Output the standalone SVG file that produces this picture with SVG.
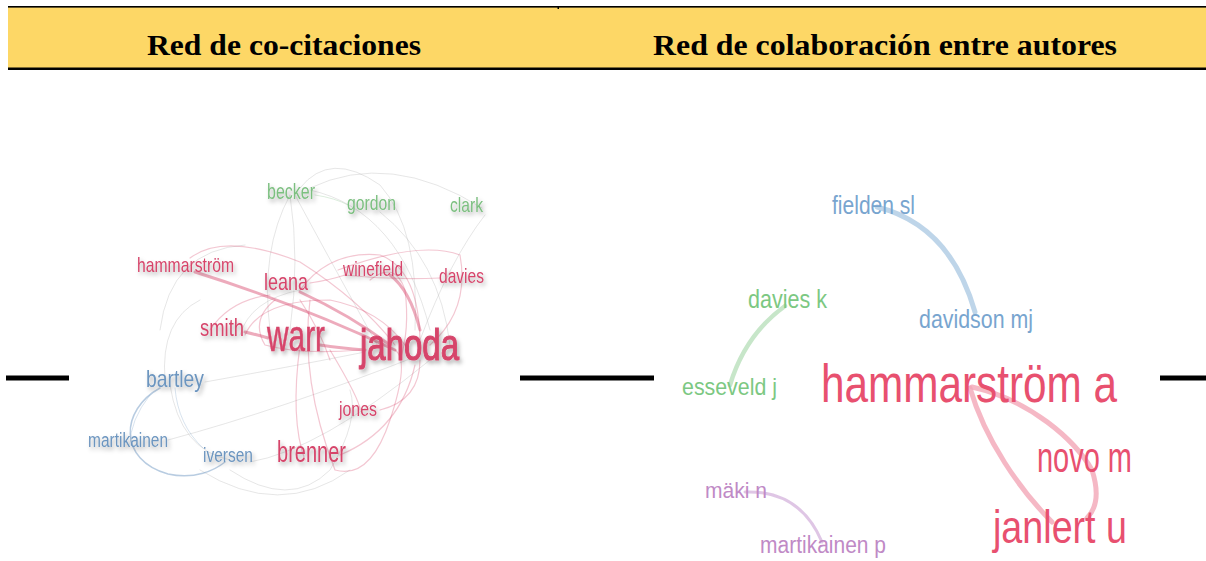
<svg xmlns="http://www.w3.org/2000/svg" width="1206" height="561" viewBox="0 0 1206 561">
<style>
.hdr{font-family:"Liberation Serif","Times New Roman",serif;font-weight:bold;font-size:30px;fill:#000}
.lb{font-family:"Liberation Sans",Arial,sans-serif;filter:url(#sh)}
.rb{font-family:"Liberation Sans",Arial,sans-serif}
.r{fill:#d6456b}.g{fill:#7cbf80}.b{fill:#6c95bf}
.R{fill:#e8506f}.G{fill:#7cc882}.B{fill:#78a5cf}.P{fill:#c08ac6}
.e{fill:none;stroke-linecap:round}
.er{stroke:#d6456b}.eg{stroke:#b8b8b8}.eb{stroke:#7ea3c8}.egr{stroke:#8cc48f}
</style>
<defs>
<filter id="sh" x="-20%" y="-30%" width="150%" height="180%">
<feDropShadow dx="2" dy="3" stdDeviation="2" flood-color="#000" flood-opacity="0.3"/>
</filter>
</defs>
<rect width="1206" height="561" fill="#fff"/>
<g id="header">
<rect x="8" y="7" width="1198" height="61" fill="#fdd766"/>
<rect x="8" y="6" width="1198" height="1.6" fill="#000"/>
<rect x="8" y="67.5" width="1198" height="2.5" fill="#000"/>
<rect x="557.5" y="6" width="1.5" height="3" fill="#000"/>
<text class="hdr" x="147" y="55" textLength="274" lengthAdjust="spacingAndGlyphs">Red de co-citaciones</text>
<text class="hdr" x="653" y="55" textLength="464" lengthAdjust="spacingAndGlyphs">Red de colaboración entre autores</text>
</g>
<g id="rules">
<rect x="6" y="375.5" width="63" height="5" fill="#000"/>
<rect x="520" y="375.5" width="134" height="5" fill="#000"/>
<rect x="1160" y="375.5" width="46" height="5" fill="#000"/>
</g>
<g id="connectors">
<g class="e eg" stroke-opacity="0.35" stroke-width="1">
<path d="M300,188 Q330,150 380,185 Q420,230 415,330"/>
<path d="M310,188 Q390,150 482,208"/>
<path d="M290,195 Q300,260 290,330"/>
<path d="M295,195 Q330,260 380,350"/>
<path d="M310,190 Q400,210 430,330"/>
<path d="M290,195 Q260,250 270,330"/>
<path d="M205,382 Q300,365 365,352"/>
<path d="M168,440 Q280,410 420,355"/>
<path d="M380,212 Q440,260 450,345"/>
<path d="M485,215 Q450,260 420,340"/>
<path d="M250,462 Q320,450 430,360"/>
<path d="M160,330 Q170,250 245,245"/>
<path d="M165,380 Q160,320 200,300"/>
<path d="M200,470 Q280,520 350,470"/>
<path d="M230,470 Q290,510 330,470 Q360,420 350,390"/>
<path d="M170,385 Q180,450 230,460"/>
<path d="M240,335 Q250,300 300,290"/>
</g>
<g class="e er" stroke-opacity="0.3" stroke-width="1.2">
<path d="M190,258 Q225,232 300,262 Q360,300 395,345"/>
<path d="M338,270 Q420,240 460,255 Q470,310 430,345"/>
<path d="M300,290 Q330,250 380,255 Q420,270 420,345"/>
<path d="M275,300 Q250,320 265,345 Q300,355 360,350"/>
<path d="M300,345 Q290,420 305,460"/>
<path d="M310,300 Q300,380 335,470 Q370,480 390,420 Q410,360 395,350"/>
<path d="M245,335 Q260,300 330,300 Q380,310 405,345"/>
<path d="M330,350 Q360,400 360,410"/>
<path d="M380,410 Q420,400 420,360"/>
<path d="M340,455 Q400,430 415,365"/>
<path d="M345,275 Q390,280 440,278"/>
<path d="M310,283 Q330,280 345,275"/>
<path d="M300,300 Q320,330 330,360"/>
<path d="M210,330 Q230,300 270,295"/>
<path d="M400,360 Q410,330 405,290 Q395,260 370,280"/>
</g>
<g class="e er" stroke-opacity="0.45" stroke-width="3">
<path d="M195,272 Q300,305 395,350"/>
<path d="M320,345 Q340,348 365,350"/>
<path d="M245,332 Q258,335 268,338"/>
<path d="M300,292 Q350,315 390,345"/>
<path d="M390,275 Q410,290 420,330"/>
</g>
<g class="e egr" stroke-opacity="0.3" stroke-width="1">
<path d="M315,195 Q335,198 348,205"/>
</g>
<g class="e eb" stroke-opacity="0.55" stroke-width="1.5">
<path d="M160,388 C120,410 118,460 168,474 C195,480 215,470 225,462"/>
</g>
<g class="e eb" stroke-opacity="0.3" stroke-width="1">
<path d="M175,388 Q178,425 203,448"/>
<path d="M130,445 Q130,420 150,395"/>
</g>
<path class="e" d="M877,207 Q950,225 975,312" stroke="#aecbe4" stroke-width="5" stroke-opacity="0.8"/>
<path class="e" d="M785,306 Q745,335 730,385" stroke="#b9e0bb" stroke-width="4.5" stroke-opacity="0.8"/>
<path class="e" d="M970,388 C985,440 1020,490 1052,522" stroke="#f3a6b6" stroke-width="5" stroke-opacity="0.8"/>
<path class="e" d="M972,387 C1030,400 1075,440 1092,470 C1100,495 1095,510 1087,518" stroke="#f3a6b6" stroke-width="5" stroke-opacity="0.8"/>
<path class="e" d="M745,492 Q800,490 822,542" stroke="#dcc0e2" stroke-width="3" stroke-opacity="0.9"/>
</g>
<g id="n-becker"><text class="lb g" x="267" y="199" font-size="22" textLength="48" lengthAdjust="spacingAndGlyphs">becker</text></g>
<g id="n-gordon"><text class="lb g" x="347" y="210" font-size="21" textLength="49" lengthAdjust="spacingAndGlyphs">gordon</text></g>
<g id="n-clark"><text class="lb g" x="450" y="212" font-size="21" textLength="33" lengthAdjust="spacingAndGlyphs">clark</text></g>
<g id="n-hammarstrom"><text class="lb r" x="137" y="272" font-size="21" textLength="97" lengthAdjust="spacingAndGlyphs">hammarström</text></g>
<g id="n-leana"><text class="lb r" x="264" y="290" font-size="24" textLength="44" lengthAdjust="spacingAndGlyphs">leana</text></g>
<g id="n-winefield"><text class="lb r" x="343" y="276" font-size="20" textLength="60" lengthAdjust="spacingAndGlyphs">winefield</text></g>
<g id="n-davies"><text class="lb r" x="439" y="283" font-size="21" textLength="45" lengthAdjust="spacingAndGlyphs">davies</text></g>
<g id="n-smith"><text class="lb r" x="200" y="336" font-size="23" textLength="44" lengthAdjust="spacingAndGlyphs">smith</text></g>
<g id="n-warr"><text class="lb r" x="267" y="351" font-size="44" textLength="58" lengthAdjust="spacingAndGlyphs" stroke="#d6456b" stroke-width="0.5">warr</text></g>
<g id="n-jahoda"><text class="lb r" x="360" y="360" font-size="44" textLength="99" lengthAdjust="spacingAndGlyphs" stroke="#d6456b" stroke-width="1.2">jahoda</text></g>
<g id="n-bartley"><text class="lb b" x="146" y="387" font-size="24" textLength="58" lengthAdjust="spacingAndGlyphs">bartley</text></g>
<g id="n-jones"><text class="lb r" x="339" y="416" font-size="20" textLength="38" lengthAdjust="spacingAndGlyphs">jones</text></g>
<g id="n-martikainen"><text class="lb b" x="88" y="447" font-size="20" textLength="80" lengthAdjust="spacingAndGlyphs">martikainen</text></g>
<g id="n-iversen"><text class="lb b" x="203" y="462" font-size="20" textLength="50" lengthAdjust="spacingAndGlyphs">iversen</text></g>
<g id="n-brenner"><text class="lb r" x="277" y="462" font-size="29" textLength="69" lengthAdjust="spacingAndGlyphs">brenner</text></g>
<g id="n-fielden"><text class="rb B" x="832" y="214" font-size="26" textLength="83" lengthAdjust="spacingAndGlyphs">fielden sl</text></g>
<g id="n-davies-k"><text class="rb G" x="748" y="308" font-size="25" textLength="79" lengthAdjust="spacingAndGlyphs">davies k</text></g>
<g id="n-davidson"><text class="rb B" x="919" y="328" font-size="26" textLength="114" lengthAdjust="spacingAndGlyphs">davidson mj</text></g>
<g id="n-esseveld"><text class="rb G" x="682" y="395" font-size="24" textLength="95" lengthAdjust="spacingAndGlyphs">esseveld j</text></g>
<g id="n-hammarstrom-a"><text class="rb R" x="821" y="402" font-size="54" textLength="296" lengthAdjust="spacingAndGlyphs">hammarström a</text></g>
<g id="n-novo"><text class="rb R" x="1037" y="472" font-size="42" textLength="95" lengthAdjust="spacingAndGlyphs">novo m</text></g>
<g id="n-maki"><text class="rb P" x="705" y="498" font-size="22" textLength="62" lengthAdjust="spacingAndGlyphs">mäki n</text></g>
<g id="n-martikainen-p"><text class="rb P" x="760" y="553" font-size="23" textLength="126" lengthAdjust="spacingAndGlyphs">martikainen p</text></g>
<g id="n-janlert"><text class="rb R" x="993" y="543" font-size="46" textLength="134" lengthAdjust="spacingAndGlyphs">janlert u</text></g>
</svg>
